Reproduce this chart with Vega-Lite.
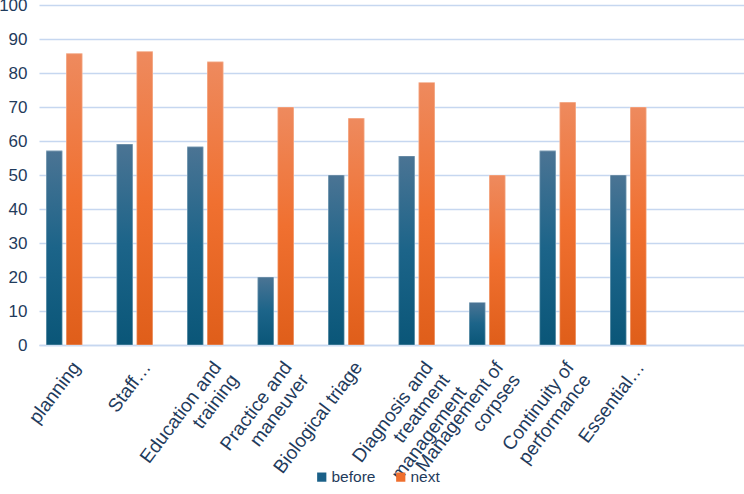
{
  "$schema": "https://vega.github.io/schema/vega-lite/v6.json",
  "width": 705,
  "height": 340,
  "autosize": "none",
  "padding": {"left": 39, "top": 5, "right": 0, "bottom": 149},
  "background": "white",
  "config": {"view": {"stroke": null}, "font": "Liberation Sans"},
  "data": {
    "values": [
      {"category": "planning", "series": "before", "value": 57.1},
      {"category": "planning", "series": "next", "value": 85.7},
      {"category": "Staff…", "series": "before", "value": 59.1},
      {"category": "Staff…", "series": "next", "value": 86.3},
      {"category": "Education and|training", "series": "before", "value": 58.3},
      {"category": "Education and|training", "series": "next", "value": 83.3},
      {"category": "Practice and|maneuver", "series": "before", "value": 20},
      {"category": "Practice and|maneuver", "series": "next", "value": 70},
      {"category": "Biological triage", "series": "before", "value": 50},
      {"category": "Biological triage", "series": "next", "value": 66.7},
      {"category": "Diagnosis and|treatment|management", "series": "before", "value": 55.6},
      {"category": "Diagnosis and|treatment|management", "series": "next", "value": 77.2},
      {"category": "Management of|corpses", "series": "before", "value": 12.5},
      {"category": "Management of|corpses", "series": "next", "value": 50},
      {"category": "Continuity of|performance", "series": "before", "value": 57.1},
      {"category": "Continuity of|performance", "series": "next", "value": 71.4},
      {"category": "Essential…", "series": "before", "value": 50},
      {"category": "Essential…", "series": "next", "value": 70}
    ]
  },
  "encoding": {
    "x": {
      "field": "category",
      "type": "nominal",
      "sort": null,
      "scale": {
        "domain": ["planning", "Staff…", "Education and|training", "Practice and|maneuver", "Biological triage", "Diagnosis and|treatment|management", "Management of|corpses", "Continuity of|performance", "Essential…", " "],
        "paddingInner": 0,
        "paddingOuter": 0
      },
      "axis": {
        "title": null,
        "domain": true,
        "domainColor": "#c6d7f0",
        "domainWidth": 1.5,
        "ticks": false,
        "grid": false,
        "labelAngle": -53,
        "labelAlign": "right",
        "labelBaseline": "top",
        "labelFont": "Liberation Sans",
        "labelFontSize": 19,
        "labelColor": "#1f3b5c",
        "labelPadding": 13,
        "labelOffset": -5,
        "labelLineHeight": 21,
        "labelLimit": 400,
        "labelOverlap": false,
        "labelBound": false,
        "labelExpr": "split(datum.label, '|')"
      }
    },
    "xOffset": {
      "field": "series",
      "type": "nominal",
      "scale": {"domain": ["before", "next", "(none)"], "paddingInner": 0.2, "paddingOuter": 0.361}
    },
    "y": {
      "field": "value",
      "type": "quantitative",
      "scale": {"domain": [0, 100], "nice": false},
      "axis": {
        "title": null,
        "values": [0, 10, 20, 30, 40, 50, 60, 70, 80, 90, 100],
        "domain": false,
        "ticks": false,
        "grid": true,
        "gridColor": "#c6d7f0",
        "gridWidth": 1.5,
        "labelFont": "Liberation Sans",
        "labelFontSize": 17,
        "labelColor": "#1f3b5c",
        "labelPadding": 12
      }
    }
  },
  "layer": [
    {
      "mark": {"type": "bar"},
      "encoding": {
        "color": {
          "field": "series",
          "type": "nominal",
          "scale": {"domain": ["before", "next"], "range": ["#1a6088", "#ef6f2e"]},
          "legend": {
            "title": null,
            "orient": "none",
            "direction": "horizontal",
            "legendX": 275,
            "legendY": 464,
            "symbolType": "square",
            "symbolSize": 85,
            "symbolStrokeWidth": 0,
            "labelFont": "Liberation Sans",
            "labelFontSize": 15.5,
            "labelColor": "#1f3b5c",
            "labelOffset": 2,
            "columnPadding": 17
          }
        }
      }
    },
    {
      "transform": [{"filter": "datum.series === 'before'"}],
      "mark": {
        "type": "bar",
        "stroke": "#ffffff",
        "strokeOpacity": 0.35,
        "strokeWidth": 1,
        "color": {
          "gradient": "linear",
          "x1": 0, "y1": 0, "x2": 0, "y2": 1,
          "stops": [
            {"offset": 0, "color": "#4b7494"},
            {"offset": 0.5, "color": "#1c6489"},
            {"offset": 1, "color": "#0a5678"}
          ]
        }
      }
    },
    {
      "transform": [{"filter": "datum.series === 'next'"}],
      "mark": {
        "type": "bar",
        "stroke": "#ffffff",
        "strokeOpacity": 0.35,
        "strokeWidth": 1,
        "color": {
          "gradient": "linear",
          "x1": 0, "y1": 0, "x2": 0, "y2": 1,
          "stops": [
            {"offset": 0, "color": "#ee8a5e"},
            {"offset": 0.5, "color": "#f07030"},
            {"offset": 1, "color": "#df5e1a"}
          ]
        }
      }
    }
  ]
}
